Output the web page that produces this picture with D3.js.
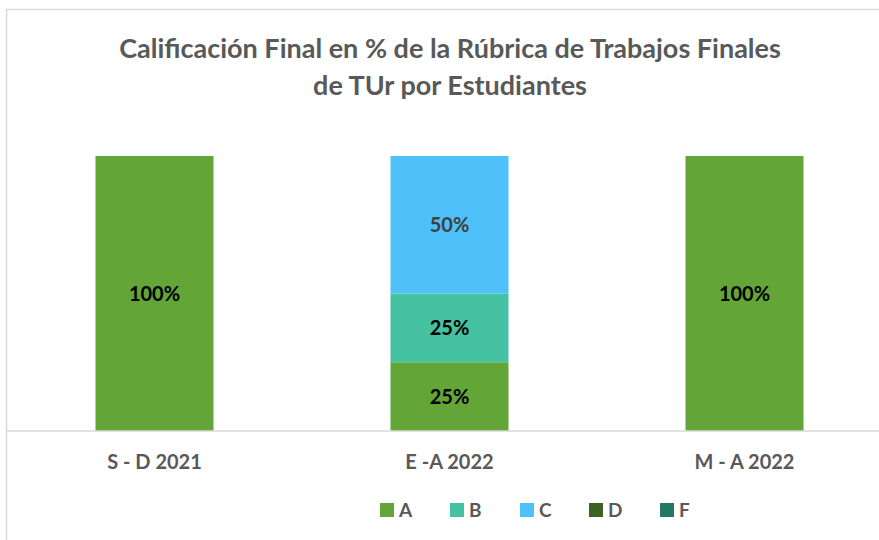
<!DOCTYPE html>
<html>
<head>
<meta charset="utf-8">
<script src="https://cdn.jsdelivr.net/npm/d3@7"></script>
<style>
  body { margin: 0; background: #fff; }
  svg text { font-family: Lato, "Open Sans", sans-serif; font-weight: bold; }
</style>
</head>
<body>
<script>
// data
var periods = ["S - D 2021", "E -A 2022", "M - A 2022"];
var grades = ["A", "B", "C", "D", "F"];
var gradeColors = ["#63a537", "#45c2a2", "#4fc1fa", "#3b6421", "#247866"];
var shareA = [1.00, 0.25, 1.00];
var shareB = [0, 0.25, 0];
var shareC = [0, 0.50, 0];
var shareD = [0, 0, 0];
var shareF = [0, 0, 0];
var titleLines = ["Calificación Final en % de la Rúbrica de Trabajos Finales", "de TUr por Estudiantes"];

var W = 879, H = 540;

var svg = d3.select("body").append("svg")
    .attr("width", W)
    .attr("height", H);

// chart border
svg.append("rect")
   .attr("x", 6.5).attr("y", 9.5)
   .attr("width", W + 20).attr("height", H + 20)
   .attr("fill", "none")
   .attr("stroke", "#d9d9d9")
   .attr("stroke-width", 1.5);

// title
svg.selectAll(".title")
   .data(titleLines)
   .enter()
   .append("text")
   .attr("class", "title")
   .attr("x", 450)
   .attr("y", function(d, i) { return 58 + i * 37; })
   .attr("text-anchor", "middle")
   .attr("fill", "#595959")
   .style("font-size", "27px")
   .text(function(d) { return d; });

var table = periods.map(function(p, i) {
    return { period: p, A: shareA[i], B: shareB[i], C: shareC[i], D: shareD[i], F: shareF[i] };
});

var stack = d3.stack().keys(grades);
var series = stack(table);

var x = d3.scaleBand()
          .domain(periods)
          .range([7, 892])
          .paddingInner(0.6)
          .paddingOuter(0.3);

var y = d3.scaleLinear()
          .domain([0, 1])
          .range([431, 156]);

var color = d3.scaleOrdinal().domain(grades).range(gradeColors);

var layers = svg.selectAll(".layer")
    .data(series)
    .enter()
    .append("g")
    .attr("class", "layer")
    .attr("fill", function(d) { return color(d.key); });

layers.selectAll("rect")
    .data(function(d) { return d; })
    .enter()
    .append("rect")
    .attr("x", function(d) { return x(d.data.period); })
    .attr("y", function(d) { return y(d[1]); })
    .attr("width", x.bandwidth())
    .attr("height", function(d) { return y(d[0]) - y(d[1]); });

// value labels
layers.each(function(s) {
    d3.select(this).selectAll("text")
      .data(s.filter(function(d) { return d[1] - d[0] > 0; }))
      .enter()
      .append("text")
      .attr("x", function(d) { return x(d.data.period) + x.bandwidth() / 2; })
      .attr("y", function(d) { return (y(d[0]) + y(d[1])) / 2; })
      .attr("dy", "0.36em")
      .attr("text-anchor", "middle")
      .attr("fill", s.key == "C" ? "#404040" : "#000")
      .style("font-size", "20px")
      .text(function(d) { return d3.format(".0%")(d[1] - d[0]); });
});

// x axis
var xAxis = svg.append("g")
    .attr("transform", "translate(0,431)")
    .call(d3.axisBottom(x).tickSize(0).tickPadding(24));
xAxis.select(".domain").remove();
xAxis.append("line")
     .attr("x1", 7).attr("x2", W)
     .attr("stroke", "#d9d9d9")
     .attr("stroke-width", 1.5);
xAxis.selectAll("text")
     .attr("fill", "#595959")
     .style("font-size", "20px")
     .style("font-family", "Lato, 'Open Sans', sans-serif");

// legend
var legendX = [380, 450, 520, 589, 660];
var legend = svg.selectAll(".legend")
    .data(grades)
    .enter()
    .append("g")
    .attr("class", "legend")
    .attr("transform", function(d, i) { return "translate(" + legendX[i] + ",503)"; });

legend.append("rect")
      .attr("width", 14).attr("height", 14)
      .attr("fill", function(d) { return color(d); });

legend.append("text")
      .attr("x", 19).attr("y", 7)
      .attr("dy", "0.36em")
      .attr("fill", "#595959")
      .style("font-size", "19px")
      .text(function(d) { return d; });
</script>
</body>
</html>
